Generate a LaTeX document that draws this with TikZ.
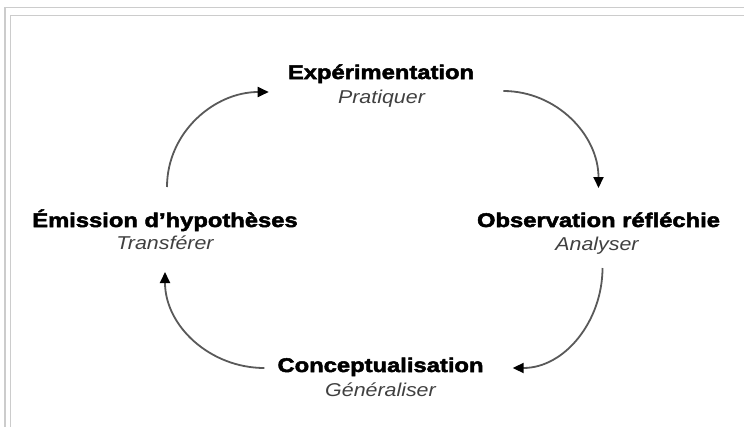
\documentclass[tikz,border=0pt]{standalone}
\usepackage{fontspec}
\setmainfont{Liberation Sans}
\newfontfamily\stagefont{Liberation Sans Bold}[FakeStretch=1.2,FakeBold=2.5]
\newfontfamily\verbfont{Liberation Sans Italic}[FakeStretch=1.15]
\usetikzlibrary{arrows.meta}

\tikzset{
  stage/.style={font=\fontsize{19.8}{23}\stagefont, inner sep=0pt, anchor=base},
  verb/.style={font=\fontsize{18.6}{23}\verbfont, text=black!75, inner sep=0pt, anchor=base},
  cycle arrow/.style={draw=black!65, line width=1.8pt, -{Triangle[length=11pt,width=10pt,color=black]}},
  frame line/.style={draw=black!20, line width=1.5pt}
}

\begin{document}
\begin{tikzpicture}[x=1pt,y=1pt]
\useasboundingbox (0,0) rectangle (744,-426);
% cadre
\draw[frame line] (5,-440) -- (5,-7.5) -- (760,-7.5);
\draw[frame line] (10.5,-440) -- (10.5,-15.5) -- (760,-15.5);

% les quatre etapes
\node[stage] (exp) at (381,-79) {Expérimentation};
\node[verb] (prat) at (381.5,-103) {Pratiquer};
\node[stage] (obs) at (598.5,-227) {Observation réfléchie};
\node[verb] (ana) at (597,-250) {Analyser};
\node[stage] (con) at (380.5,-372) {Conceptualisation};
\node[verb] (gen) at (380.5,-396) {Généraliser};
\node[stage] (emi) at (165,-227) {Émission d’hypothèses};
\node[verb] (trans) at (165,-249) {Transférer};

% le cycle
\draw[cycle arrow] ([xshift=2pt,yshift=40pt]emi.base) to[out=90,in=180] ([xshift=-19pt,yshift=-13pt]exp.base west);
\draw[cycle arrow] ([xshift=29pt,yshift=-12pt]exp.base east) to[out=0,in=90] ([yshift=39pt]obs.base);
\draw[cycle arrow] ([xshift=4pt,yshift=-41pt]obs.base) to[out=-90,in=0] ([xshift=29pt,yshift=4pt]con.base east);
\draw[cycle arrow] ([xshift=-13pt,yshift=4pt]con.base west) to[out=180,in=-90] ([yshift=-45pt]emi.base);
\end{tikzpicture}
\end{document}
